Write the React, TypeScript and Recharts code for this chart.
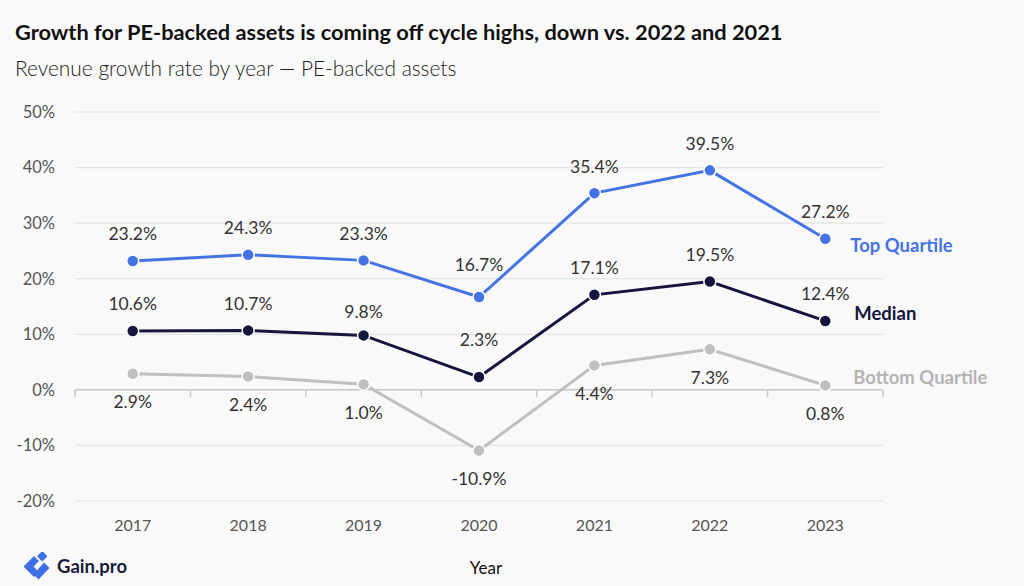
import React from 'react';
import {
  LineChart,
  Line,
  XAxis,
  YAxis,
  CartesianGrid,
  ReferenceLine,
  LabelList,
} from 'recharts';

// Revenue growth rate (%) of PE-backed assets by year
const years = ['2017', '2018', '2019', '2020', '2021', '2022', '2023'];
const topQuartile = [23.2, 24.3, 23.3, 16.7, 35.4, 39.5, 27.2];
const median = [10.6, 10.7, 9.8, 2.3, 17.1, 19.5, 12.4];
const bottomQuartile = [2.9, 2.4, 1.0, -10.9, 4.4, 7.3, 0.8];
const yTicks = [-20, -10, 0, 10, 20, 30, 40, 50];

const data = years.map((year, i) => ({
  year,
  top: topQuartile[i],
  median: median[i],
  bottom: bottomQuartile[i],
}));

const FONT = 'Lato, "Noto Sans", sans-serif';
const BLUE = '#4573e3';
const NAVY = '#15153d';
const GREY = '#bfbfbf';
const LAST = years.length - 1;

const fmt = (v: number) => `${v.toFixed(1)}%`;

type SeriesStyle = {
  name: string;
  color: string;
  nameColor: string;
  place: 'above' | 'below';
  nameDx: number;
  nameDy: number;
  nudge?: Record<number, number>;
};

const makeLabel = (s: SeriesStyle) => (props: any) => {
  const { x, y, value, index } = props;
  const base = s.place === 'above' ? -27 : 28;
  const off = s.nudge && s.nudge[index] !== undefined ? s.nudge[index] : base;
  return (
    <g>
      <text
        x={x}
        y={y + off}
        textAnchor="middle"
        dominantBaseline="central"
        fill="#333"
        fontSize={17.5}
        fontFamily={FONT}
      >
        {fmt(value)}
      </text>
      {index === LAST && (
        <text
          x={x + s.nameDx}
          y={y + s.nameDy}
          textAnchor="start"
          dominantBaseline="central"
          fill={s.nameColor}
          fontSize={18.5}
          fontWeight={700}
          fontFamily={FONT}
        >
          {s.name}
        </text>
      )}
    </g>
  );
};

const topStyle: SeriesStyle = {
  name: 'Top Quartile',
  color: BLUE,
  nameColor: BLUE,
  place: 'above',
  nameDx: 25,
  nameDy: 6,
  nudge: { 3: -33 },
};
const medianStyle: SeriesStyle = {
  name: 'Median',
  color: NAVY,
  nameColor: NAVY,
  place: 'above',
  nameDx: 29,
  nameDy: -8,
  nudge: { 2: -24, 3: -38 },
};
const bottomStyle: SeriesStyle = {
  name: 'Bottom Quartile',
  color: GREY,
  nameColor: '#b3b3b3',
  place: 'below',
  nameDx: 28,
  nameDy: -8,
};

// Zero baseline with small downward ticks at the category boundaries
const ZeroLine = (props: any) => {
  const { x1, x2, y1 } = props;
  const n = years.length;
  const step = (x2 - x1) / n;
  const ticks = Array.from({ length: n + 1 }, (_, i) => x1 + i * step);
  return (
    <g>
      <line x1={x1} x2={x2} y1={y1} y2={y1} stroke="#c9c9c9" strokeWidth={1.5} />
      {ticks.map((tx, i) => (
        <line key={i} x1={tx} x2={tx} y1={y1} y2={y1 + 7} stroke="#c9c9c9" strokeWidth={1.5} />
      ))}
    </g>
  );
};

const Logo = () => (
  <svg width={30} height={30} viewBox="0 0 30 30" style={{ position: 'absolute', left: 21, top: 552 }}>
    <g fill="#3f6fe6">
      <rect x={17.5} y={0.5} width={7.5} height={7.5} rx={1.2} transform="rotate(45 21.25 4.25)" />
      <path d="M13 4 L2.5 14.5 L13 25 L18 20 L12.5 14.5 L18 9 Z" />
      <path d="M23 10.5 L28.5 16 L17.5 27.5 L12.5 22.5 Z" />
    </g>
  </svg>
);

const renderDot = (color: string) => ({
  r: 6,
  fill: color,
  stroke: '#fff',
  strokeWidth: 1.5,
});

export default function App() {
  return (
    <div
      style={{
        position: 'absolute',
        left: 0,
        top: 0,
        width: 1024,
        height: 586,
        background: '#f9f9f9',
        fontFamily: FONT,
        overflow: 'hidden',
      }}
    >
      <div
        style={{
          position: 'absolute',
          left: 15,
          top: 18,
          fontSize: 21.8,
          fontWeight: 700,
          color: '#111',
          whiteSpace: 'nowrap',
        }}
      >
        Growth for PE-backed assets is coming off cycle highs, down vs. 2022 and 2021
      </div>
      <div
        style={{
          position: 'absolute',
          left: 15,
          top: 55,
          fontSize: 20.9,
          fontWeight: 300,
          color: '#222',
          whiteSpace: 'nowrap',
        }}
      >
        Revenue growth rate by year — PE-backed assets
      </div>

      <div style={{ position: 'absolute', left: 0, top: 0 }}>
        <LineChart
          width={1024}
          height={586}
          data={data}
          margin={{ top: 112, right: 141, bottom: 5, left: 0 }}
        >
          <CartesianGrid vertical={false} stroke="#e4e4e4" strokeWidth={1.2} />
          <XAxis
            dataKey="year"
            scale="band"
            axisLine={false}
            tickLine={false}
            tickSize={0}
            tickMargin={19}
            height={80}
            tick={{ fill: '#555', fontSize: 16, fontFamily: FONT }}
            label={{
              value: 'Year',
              position: 'insideBottom',
              offset: 7,
              dx: 7,
              fill: '#111',
              fontSize: 17,
              fontFamily: FONT,
            }}
          />
          <YAxis
            domain={[-20, 50]}
            ticks={yTicks}
            width={75}
            axisLine={false}
            tickLine={false}
            tickSize={0}
            tickMargin={20}
            interval={0}
            tickFormatter={(v: number) => `${v}%`}
            tick={{ fill: '#555', fontSize: 16.5, fontFamily: FONT }}
          />
          <ReferenceLine y={0} shape={ZeroLine} />
          <Line
            dataKey="bottom"
            stroke={GREY}
            strokeWidth={3}
            dot={renderDot(GREY)}
            activeDot={false}
            isAnimationActive={false}
          >
            <LabelList dataKey="bottom" content={makeLabel(bottomStyle)} />
          </Line>
          <Line
            dataKey="median"
            stroke={NAVY}
            strokeWidth={3}
            dot={renderDot(NAVY)}
            activeDot={false}
            isAnimationActive={false}
          >
            <LabelList dataKey="median" content={makeLabel(medianStyle)} />
          </Line>
          <Line
            dataKey="top"
            stroke={BLUE}
            strokeWidth={3}
            dot={renderDot(BLUE)}
            activeDot={false}
            isAnimationActive={false}
          >
            <LabelList dataKey="top" content={makeLabel(topStyle)} />
          </Line>
        </LineChart>
      </div>

      <Logo />
      <div
        style={{
          position: 'absolute',
          left: 57,
          top: 555,
          fontSize: 18.5,
          fontWeight: 700,
          color: '#1b1b3a',
        }}
      >
        Gain.pro
      </div>
    </div>
  );
}
